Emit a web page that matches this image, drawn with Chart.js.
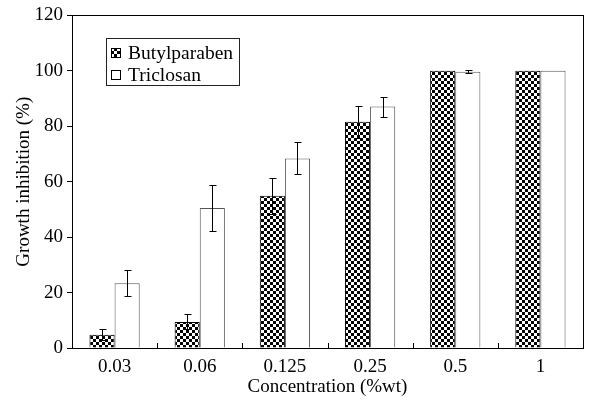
<!DOCTYPE html>
<html>
<head>
<meta charset="utf-8">
<script src="https://cdn.jsdelivr.net/npm/chart.js@4/dist/chart.umd.min.js"></script>
<style>
  html, body { margin: 0; padding: 0; background: #fff; }
  #wrap { width: 596px; height: 406px; }
</style>
</head>
<body>
<div id="wrap"><canvas id="growthChart"></canvas></div>
<script>
// Data
const concentrations = ['0.03', '0.06', '0.125', '0.25', '0.5', '1'];
const butylparaben = [4.8, 9.4, 54.9, 81.6, 100, 100];
const butylparabenErr = [2.0, 2.7, 6.5, 5.8, 0, 0];
const triclosan = [23.4, 50.5, 68.4, 87.1, 99.7, 100];
const triclosanErr = [4.7, 8.3, 5.8, 3.6, 0.5, 0];
const yTicks = [0, 20, 40, 60, 80, 100, 120];

const serif = "'Liberation Serif', 'Times New Roman', serif";

// checkered fill for Butylparaben
function checkerPattern() {
  const c = document.createElement('canvas');
  c.width = 6; c.height = 6;
  const g = c.getContext('2d');
  g.fillStyle = '#fff';
  g.fillRect(0, 0, 6, 6);
  g.fillStyle = '#000';
  g.fillRect(0, 0, 3, 3);
  g.fillRect(3, 3, 3, 3);
  return g.createPattern(c, 'repeat');
}
const checker = checkerPattern();

// error bars, frame, inward x ticks and boxed legend
const extras = {
  id: 'extras',
  afterDatasetsDraw(chart) {
    const ctx = chart.ctx;
    const y = chart.scales.y;
    const errs = [butylparabenErr, triclosanErr];
    ctx.save();
    ctx.strokeStyle = '#000';
    ctx.lineWidth = 1;
    chart.data.datasets.forEach((ds, i) => {
      const meta = chart.getDatasetMeta(i);
      meta.data.forEach((bar, j) => {
        const e = errs[i][j];
        if (!e) return;
        const x = Math.round(bar.x) + 0.5;
        const top = Math.round(y.getPixelForValue(ds.data[j] + e)) + 0.5;
        const bot = Math.round(y.getPixelForValue(ds.data[j] - e)) + 0.5;
        ctx.beginPath();
        ctx.moveTo(x, top); ctx.lineTo(x, bot);
        ctx.moveTo(x - 3, top); ctx.lineTo(x + 4, top);
        ctx.moveTo(x - 3, bot); ctx.lineTo(x + 4, bot);
        ctx.stroke();
      });
    });
    ctx.restore();
  },
  afterDraw(chart) {
    const ctx = chart.ctx;
    const a = chart.chartArea;
    ctx.save();
    ctx.strokeStyle = '#000';
    ctx.lineWidth = 1;
    ctx.strokeRect(Math.round(a.left) + 0.5, Math.round(a.top) + 0.5,
      Math.round(a.right - a.left), Math.round(a.bottom - a.top));
    // x ticks at category boundaries, pointing inward
    const step = (a.right - a.left) / concentrations.length;
    ctx.beginPath();
    for (let k = 1; k < concentrations.length; k++) {
      const x = Math.round(a.left + k * step) + 0.5;
      ctx.moveTo(x, a.bottom); ctx.lineTo(x, a.bottom - 5);
    }
    ctx.stroke();

    // legend box
    const lx = 106, ly = 38, lw = 133, lh = 47;
    ctx.strokeStyle = '#222';
    ctx.strokeRect(lx + 0.5, ly + 0.5, lw, lh);
    ctx.font = '19.5px ' + serif;
    ctx.textBaseline = 'middle';
    chart.data.datasets.forEach((ds, i) => {
      const cy = ly + 15 + i * 22;
      ctx.fillStyle = ds.backgroundColor;
      ctx.fillRect(lx + 5, cy - 5, 9, 9);
      ctx.strokeStyle = '#000';
      ctx.strokeRect(lx + 5.5, cy - 4.5, 9, 9);
      ctx.fillStyle = '#000';
      ctx.fillText(ds.label, lx + 22, cy + 1);
    });
    ctx.restore();
  }
};

new Chart(document.getElementById('growthChart'), {
  type: 'bar',
  data: {
    labels: concentrations,
    datasets: [
      {
        label: 'Butylparaben',
        data: butylparaben,
        backgroundColor: checker,
        borderColor: '#000',
        borderWidth: 1
      },
      {
        label: 'Triclosan',
        data: triclosan,
        backgroundColor: '#fff',
        borderColor: '#555',
        borderWidth: 1
      }
    ]
  },
  options: {
    responsive: true,
    maintainAspectRatio: false,
    animation: false,
    devicePixelRatio: 1,
    layout: { padding: { top: 15, right: 13, left: 0, bottom: 0 } },
    datasets: { bar: { categoryPercentage: 0.59, barPercentage: 1 } },
    plugins: {
      legend: { display: false },
      tooltip: { enabled: false }
    },
    scales: {
      x: {
        afterFit(scale) { scale.height = 58; },
        grid: { display: false },
        border: { display: false },
        ticks: { color: '#000', font: { family: serif, size: 19 }, padding: 0 },
        title: {
          display: true,
          text: 'Concentration (%wt)',
          color: '#000',
          font: { family: serif, size: 19 },
          padding: { top: 0, bottom: 8 }
        }
      },
      y: {
        min: 0,
        max: 120,
        afterFit(scale) { scale.width = 72; },
        afterBuildTicks(scale) {
          scale.ticks = yTicks.map(v => ({ value: v }));
        },
        grid: { drawOnChartArea: false, drawTicks: true, tickLength: 5, color: '#000' },
        border: { display: false },
        ticks: { color: '#000', font: { family: serif, size: 19 }, padding: 4 },
        title: {
          display: true,
          text: 'Growth inhibition (%)',
          color: '#000',
          font: { family: serif, size: 19 },
          padding: { top: 13, bottom: 0 }
        }
      }
    }
  },
  plugins: [extras]
});
</script>
</body>
</html>
